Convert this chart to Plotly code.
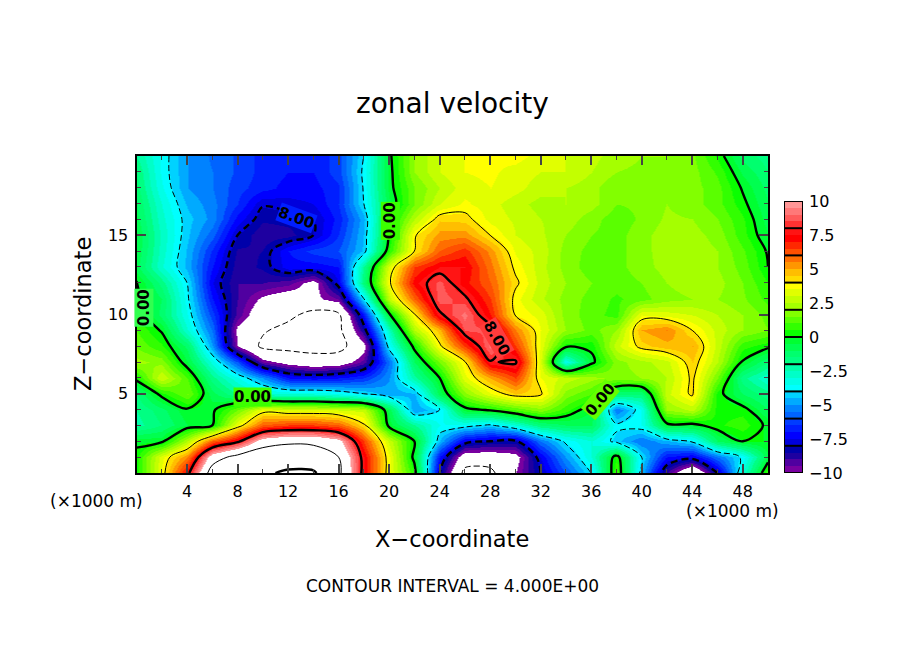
import numpy as np
import plotly.graph_objects as go

x_km = list(range(0, 51, 2))
z_km = list(range(0, 21))

z20 = [-2,-3.6,-5,-5.6,-6.1,-6.7,-7,-7,-6.2,-4,-0.2,2,3,3.5,3.6,3.7,3.3,3,2.7,2.2,2,2,1.6,0.4,-1.2,-1.8]
z19 = [-1.5,-3.6,-5,-5.5,-6.1,-6.7,-7,-7,-6.2,-3.8,-0.3,2,3,3.5,3.6,3.3,3,3,2.5,2,1.9,1.9,1.7,0.9,-0.6,-1.5]
z18 = [-1.3,-3.4,-5,-5.5,-6.3,-6.8,-7.2,-7.2,-6.6,-3.9,-0.3,1.5,2.5,3.3,3.5,3.2,2.7,2.5,2.2,1.5,1.6,1.8,1.7,1.2,-0.1,-1.2]
z17 = [-1,-3,-4.6,-5.3,-6.5,-7.9,-7.7,-7.5,-6.5,-4,-0.6,1.5,3,3.6,3.2,2.7,2.3,2.5,2.2,1.5,1.6,2,1.7,1.2,0.2,-1]
z16 = [-0.8,-2.8,-4.3,-5.2,-7.2,-8.4,-8.3,-8,-6.8,-4.7,0,2.5,4.4,4.3,3.3,2.9,2.5,2.3,1.7,1.2,1.6,2.1,2,1.5,0.6,-0.8]
z15 = [-0.5,-2.6,-4.4,-5.8,-8,-8.9,-8.7,-8,-6.5,-4.5,0.1,3.9,5.2,5.3,4,3,2.6,2,1.5,1.3,1.8,2.3,2.2,1.8,0.7,-0.5]
z14 = [-0.6,-2.7,-4.6,-6.6,-8.6,-8.5,-7,-6.3,-6,-4.4,0.6,4,6,6.8,5.3,3.4,2.8,1.8,1.3,1.3,1.8,2.3,2.3,2,1.1,-0.1]
z13 = [-0.8,-2.9,-4.7,-7,-8.8,-8.4,-7.2,-7.3,-7,-2,3.3,6.5,7.5,7.5,5.7,3.8,2.7,1.8,1.2,1.3,1.8,2.2,2.3,2,1.3,0]
z12 = [0.1,-1.7,-4,-7.5,-9,-9,-9.3,-10.5,-7.5,-1.5,3.8,7.3,8.7,7.2,6,4.2,2.8,2,1.5,1.2,1.5,2,2.3,2.2,1.5,0.5]
z11 = [0.2,-1,-3.8,-7,-9,-10.2,-10.8,-10.3,-9.5,-4,2.8,6,8.8,8.2,6.5,3.7,2.6,1.8,1.3,0.9,1.3,1.8,2,2,1.6,0.8]
z10 = [0.6,-1.2,-3.5,-6.3,-9.2,-11,-11.5,-12.6,-12.3,-7,-0.2,3.9,7.8,9.2,7,3.9,3.3,1.8,1.2,0.8,3.5,3.3,3,2.5,2,1.3]
z09 = [1,-0.1,-3,-5.6,-10.3,-11.8,-12.6,-12.5,-12.5,-8.5,-2.5,2.5,4.8,8.6,8.6,5.5,3.5,2,1.3,2,5,5.5,4,2.8,2,1.5]
z08 = [1.4,0.6,-1.2,-5,-10,-12.4,-12.6,-12.8,-12.7,-10.5,-3.6,0.3,3.8,6.5,9.2,6.5,3.4,0.2,0.2,2.8,4.3,4.8,5,2.8,0.7,0.2]
z07 = [2.2,1.8,-0.5,-3.2,-6,-9.5,-10.5,-11,-10.8,-9.3,-5.5,-1,1.5,3.9,7.9,8.2,3.2,-3.5,-0.3,1.8,2.3,2.8,4.5,2.5,-0.1,-1.5]
z06 = [0.3,3,1,-1.8,-3.4,-5,-7,-7.3,-7,-6.5,-5,-2.2,0,3.3,5,6.5,3.5,2.8,2.2,1.8,2,2.5,4.2,1.5,-1.8,-3]
z05 = [-1.5,0.3,1.5,-0.8,-2,-2.8,-3,-3,-3.4,-4,-4.8,-4.6,-0.8,1.8,3.4,4.5,4.2,1.8,1,-1.5,-1.5,2.8,4.2,0.3,-1,-1.8]
z04 = [-2,-1.2,-0.1,-0.2,1.5,3.5,3.2,3.2,3,2.8,-0.7,-5,-4,-0.3,0.2,1,1.8,0.7,-0.5,-5.5,-3.5,2,2.6,0.3,0.3,-1]
z03 = [-2.2,-1.5,-0.5,0,3.5,6,6.5,6.5,6,4.2,-0.3,-2,-3.5,-3.6,-4.2,-3,-1.5,-1,-1,-3.8,-3.5,-0.3,-0.3,0.4,0.8,-0.2]
z02 = [-0.2,-0.2,2.5,6,7.7,10.8,11.5,11.5,10.5,6.5,2.8,0,-4.5,-7.5,-8,-8.2,-5.5,-3.8,-3,-4.3,-5.5,-4.6,-3.9,-1,0,0]
z01 = [0.3,3.3,5.5,11,12.7,13.8,14.2,13.5,12,7.5,3.5,-0.3,-7,-11,-11,-10.5,-7.5,-5,-3,0.5,-4,-7,-7.5,-5.5,-3.8,-0.5]
z00 = [0.3,3.5,7.5,13,15,15.5,16.5,16.5,12.5,7.5,3.5,0.5,-8,-12.5,-12.5,-10,-8,-6,-4,1,-4.5,-9,-12,-8,-3,1]

velocity = [z00, z01, z02, z03, z04, z05, z06, z07, z08, z09, z10,
            z11, z12, z13, z14, z15, z16, z17, z18, z19, z20]

bin_colors = [
    "#7800a0", "#5000a0", "#1e00a0", "#0000aa",
    "#0000dc", "#0000ff", "#001eff", "#003cff",
    "#0064ff", "#0082ff", "#00aaff", "#00d2ff",
    "#00ffff", "#00ffe6", "#00ffc8", "#00ffaa",
    "#00ff82", "#00ff6e", "#00ff50", "#00ff32",
    "#0aff00", "#32ff00", "#5aff00", "#82ff00",
    "#a5ff00", "#c3ff00", "#e1ff00", "#ffff00",
    "#ffdc00", "#ffbe00", "#ff9600", "#ff6e00",
    "#ff5000", "#ff2800", "#ff0000", "#ff1414",
    "#ff3232", "#ff5a5a", "#ff7878", "#ff9696",
]
bin_edges = [-10 + 0.5 * i for i in range(41)]
colorbar_ticks = [-10, -7.5, -5, -2.5, 0, 2.5, 5, 7.5, 10]
colorbar_labels = ["\u221210", "\u22127.5", "\u22125", "\u22122.5", "0", "2.5", "5", "7.5", "10"]
colorbar_breaks = list(range(-8, 10, 2))
x_ticks = list(range(4, 50, 4))
z_ticks = [5, 10, 15]

ZMIN, ZMAX = -10.5, 10.5
def pos(v):
    return (v - ZMIN) / (ZMAX - ZMIN)
scale = [[0, "white"], [pos(-10), "white"]]
for i, c in enumerate(bin_colors):
    scale += [[pos(bin_edges[i]), c], [pos(bin_edges[i + 1]), c]]
scale += [[pos(10), "white"], [1, "white"]]

W, H = 904, 654
L, R, T, B = 136.5, 768, 156, 473
fig = go.Figure()

fig.add_trace(go.Heatmap(x=x_km, y=z_km, z=velocity, zmin=ZMIN, zmax=ZMAX, colorscale=scale,
                         zsmooth="best", showscale=False, hoverinfo="skip"))

def lines(start, end, size, width, dash):
    fig.add_trace(go.Contour(x=x_km, y=z_km, z=velocity, autocontour=False, showscale=False,
                             contours=dict(coloring="none", start=start, end=end, size=size),
                             line=dict(color="black", width=width, dash=dash, smoothing=1),
                             hoverinfo="skip"))

lines(0, 0, 8, 2.4, "solid")
lines(4, 12, 8, 1, "solid")
lines(8, 16, 8, 2.4, "solid")
lines(-12, -4, 8, 1, "6px,3px")
lines(-8, -8, 8, 2.4, "7px,4px")

mids = [[(bin_edges[i] + bin_edges[i + 1]) / 2] for i in range(40)]
fig.add_trace(go.Heatmap(x=[0], y=[(bin_edges[i] + bin_edges[i + 1]) / 2 for i in range(40)], z=mids,
                         zmin=ZMIN, zmax=ZMAX, colorscale=scale, showscale=False, hoverinfo="skip",
                         xaxis="x2", yaxis="y2"))

font = "DejaVu Sans"
fig.update_layout(
    width=W, height=H, autosize=False, paper_bgcolor="white", plot_bgcolor="white",
    margin=dict(l=0, r=0, t=0, b=0, autoexpand=False), showlegend=False,
    font=dict(family=font, color="black", size=16),
    xaxis=dict(domain=[L / W, R / W], range=[0, 50], tickvals=x_ticks, ticks="inside", ticklen=9, tickwidth=2,
               minor=dict(dtick=2, ticks="inside", ticklen=4, tickwidth=1, tick0=0),
               showgrid=False, zeroline=False, showline=True, linewidth=2, linecolor="black", mirror="allticks",
               tickfont=dict(size=16), ticklabelstandoff=3),
    yaxis=dict(domain=[1 - B / H, 1 - T / H], range=[0, 20], tickvals=z_ticks, ticks="inside", ticklen=9, tickwidth=2,
               minor=dict(dtick=1, ticks="inside", ticklen=4, tickwidth=1, tick0=0),
               showgrid=False, zeroline=False, showline=True, linewidth=2, linecolor="black", mirror="allticks",
               tickfont=dict(size=16), ticklabelstandoff=3),
    xaxis2=dict(domain=[784 / W, 803 / W], visible=False, range=[-0.5, 0.5], anchor="y2"),
    yaxis2=dict(domain=[1 - 473 / H, 1 - 201 / H], range=[-10, 10], anchor="x2", side="right",
                tickvals=colorbar_ticks, ticktext=colorbar_labels, ticks="", showgrid=False, zeroline=False,
                showline=False, tickfont=dict(size=16), ticklabelstandoff=5),
)

fig.add_shape(type="rect", xref="x2", yref="y2", x0=-0.5, x1=0.5, y0=-10, y1=10, line=dict(color="black", width=2))
for b in colorbar_breaks:
    fig.add_shape(type="line", xref="x2", yref="y2", x0=-0.5, x1=0.5, y0=b, y1=b, line=dict(color="black", width=2))

def pxnote(text, px, py, size, **kw):
    fig.add_annotation(text=text, x=px / W, y=1 - py / H, xref="paper", yref="paper", showarrow=False,
                       font=dict(size=size, family=font), xanchor="center", yanchor="middle", **kw)

pxnote("zonal velocity", 452, 104, 28)
pxnote("X\u2212coordinate", 452, 539, 22.5)
pxnote("Z\u2212coordinate", 83, 314, 22.5, textangle=-90)
pxnote("(\u00d71000 m)", 96, 501, 17)
pxnote("(\u00d71000 m)", 732, 511, 17)
pxnote("CONTOUR INTERVAL = 4.000E+00", 452, 586, 17)

labels = [("0.00", 9.2, 4.8, 0, "#3cff00"), ("0.00", 20.1, 15.9, -90, "#3cff00"),
          ("0.00", 0.6, 10.4, -90, "#32ff50"), ("0.00", 36.7, 4.6, -50, "#64ff00"),
          ("8.00", 12.7, 16.1, 20, "#001eff"), ("8.00", 28.5, 8.5, 60, "#ff3c3c")]
for t, xv, zv, ang, bg in labels:
    fig.add_annotation(text="<b>" + t + "</b>", x=xv, y=zv, xref="x", yref="y", showarrow=False, textangle=ang,
                       font=dict(size=15, family=font, color="black"), bgcolor=bg, borderpad=0)

fig.write_html("out.html", config=dict(displayModeBar=False), post_script="document.body.style.margin='0';")
